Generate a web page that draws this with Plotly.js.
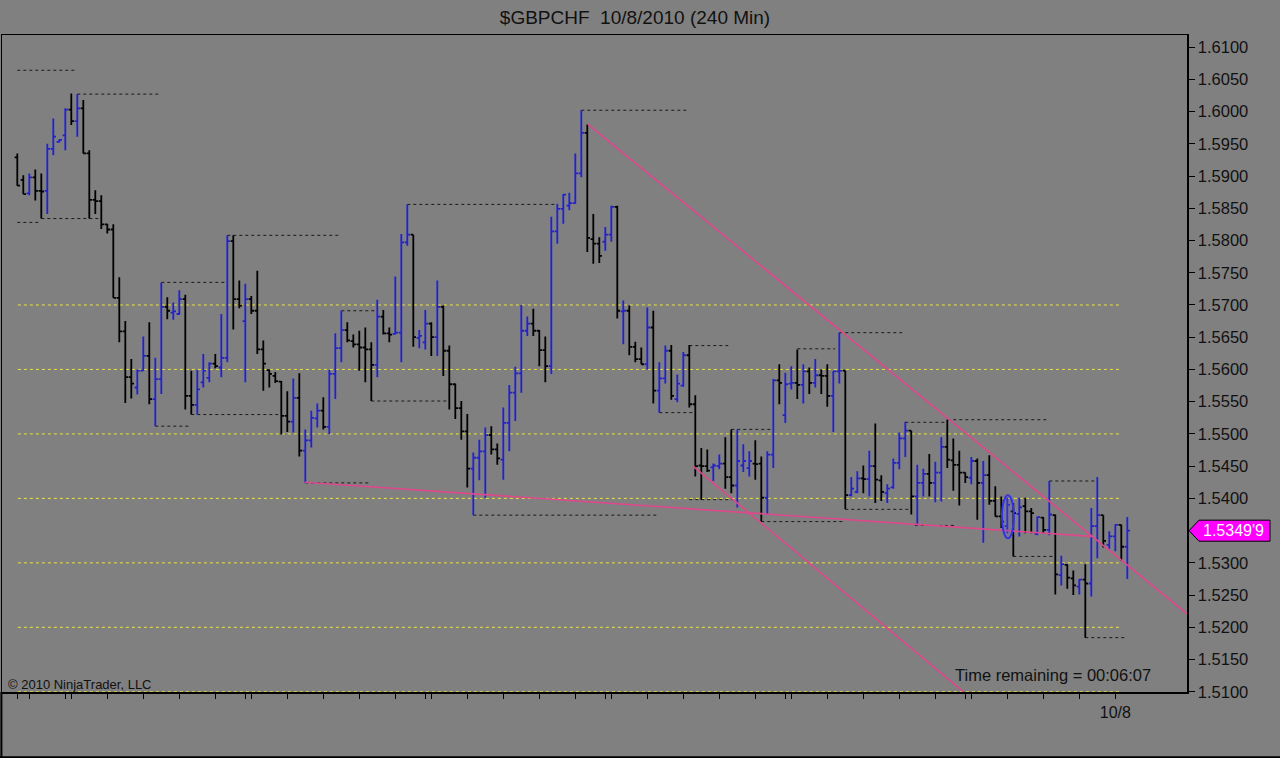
<!DOCTYPE html>
<html><head><meta charset="utf-8">
<script src="https://cdn.plot.ly/plotly-3.0.1.min.js"></script>
<style>html,body{margin:0;padding:0;background:#808080;overflow:hidden}#chart{width:1280px;height:758px}</style>
</head><body><div id="chart"></div>
<script>
// ---- data (240 min bars, GBP/CHF) ----
const opens = [
1.5929,1.5894,1.5873,1.5898,1.5877,1.5877,1.5942,1.5953,1.5963,1.6003,
1.5985,1.6005,1.5935,1.5863,1.5861,1.5825,1.5817,1.5711,1.5659,1.5588,
1.5572,1.5598,1.5621,1.5554,1.5585,1.5697,1.5688,1.5686,1.5709,1.5559,
1.5545,1.5580,1.5587,1.5609,1.5603,1.5618,1.5799,1.5709,1.5675,1.5709,
1.5691,1.5631,1.5599,1.5590,1.5581,1.5528,1.5519,1.5556,1.5474,1.5490,
1.5524,1.5536,1.5511,1.5593,1.5633,1.5661,1.5644,1.5639,1.5634,1.5631,
1.5607,1.5682,1.5656,1.5655,1.5657,1.5797,1.5809,1.5649,1.5642,1.5671,
1.5650,1.5697,1.5629,1.5577,1.5540,1.5504,1.5446,1.5463,1.5473,1.5498,
1.5476,1.5460,1.5517,1.5564,1.5594,1.5660,1.5671,1.5660,1.5630,1.5605,
1.5814,1.5849,1.5854,1.5858,1.5904,1.5967,1.5802,1.5795,1.5798,1.5809,
1.5852,1.5690,1.5691,1.5635,1.5616,1.5608,1.5665,1.5567,1.5586,1.5629,
1.5554,1.5575,1.5622,1.5546,1.5451,1.5450,1.5448,1.5450,1.5454,1.5433,
1.5420,1.5451,1.5447,1.5454,1.5454,1.5401,1.5468,1.5583,1.5529,1.5578,
1.5579,1.5576,1.5597,1.5579,1.5591,1.5590,1.5559,1.5597,1.5598,1.5405,
1.5410,1.5431,1.5430,1.5450,1.5428,1.5408,1.5417,1.5455,1.5493,1.5505,
1.5403,1.5424,1.5438,1.5424,1.5440,1.5480,1.5459,1.5452,1.5440,1.5432,
1.5458,1.5424,1.5436,1.5396,1.5372,1.5357,1.5380,1.5376,1.5388,1.5380,
1.5345,1.5370,1.5351,1.5374,1.5281,1.5297,1.5276,1.5263,1.5274,1.5268,
1.5357,1.5374,1.5328,1.5341,1.5359,1.5325];
const highs = [
1.5935,1.5901,1.5904,1.5910,1.5904,1.5950,1.5989,1.5957,1.6005,1.6028,
1.6027,1.6018,1.5940,1.5878,1.5870,1.5826,1.5825,1.5743,1.5675,1.5616,
1.5600,1.5651,1.5673,1.5618,1.5735,1.5712,1.5704,1.5723,1.5716,1.5598,
1.5599,1.5624,1.5611,1.5624,1.5686,1.5808,1.5808,1.5738,1.5733,1.5714,
1.5753,1.5645,1.5600,1.5596,1.5582,1.5566,1.5586,1.5594,1.5507,1.5536,
1.5547,1.5557,1.5599,1.5656,1.5691,1.5673,1.5654,1.5660,1.5665,1.5642,
1.5708,1.5692,1.5665,1.5744,1.5810,1.5856,1.5809,1.5661,1.5692,1.5673,
1.5738,1.5699,1.5637,1.5578,1.5551,1.5531,1.5471,1.5491,1.5510,1.5512,
1.5485,1.5541,1.5576,1.5604,1.5700,1.5682,1.5694,1.5661,1.5651,1.5837,
1.5857,1.5872,1.5874,1.5935,1.6002,1.5980,1.5841,1.5805,1.5821,1.5854,
1.5854,1.5707,1.5699,1.5643,1.5634,1.5696,1.5691,1.5611,1.5637,1.5638,
1.5592,1.5627,1.5638,1.5560,1.5478,1.5476,1.5454,1.5468,1.5495,1.5507,
1.5507,1.5484,1.5473,1.5490,1.5465,1.5473,1.5585,1.5608,1.5595,1.5605,
1.5631,1.5608,1.5603,1.5616,1.5600,1.5608,1.5597,1.5657,1.5598,1.5433,
1.5442,1.5451,1.5474,1.5516,1.5436,1.5422,1.5462,1.5502,1.5519,1.5505,
1.5452,1.5446,1.5469,1.5457,1.5495,1.5522,1.5493,1.5474,1.5440,1.5464,
1.5462,1.5458,1.5467,1.5419,1.5403,1.5401,1.5393,1.5401,1.5401,1.5385,
1.5372,1.5371,1.5427,1.5375,1.5311,1.5298,1.5288,1.5275,1.5298,1.5385,
1.5433,1.5374,1.5349,1.5360,1.5359,1.5371];
const lows = [
1.5885,1.5872,1.5870,1.5862,1.5834,1.5841,1.5932,1.5952,1.5940,1.5979,
1.5961,1.5935,1.5834,1.5841,1.5818,1.5811,1.5711,1.5642,1.5548,1.5555,
1.5561,1.5598,1.5546,1.5512,1.5562,1.5678,1.5677,1.5685,1.5538,1.5530,
1.5530,1.5572,1.5580,1.5602,1.5588,1.5611,1.5662,1.5695,1.5580,1.5686,
1.5624,1.5567,1.5572,1.5579,1.5499,1.5503,1.5502,1.5465,1.5424,1.5479,
1.5510,1.5507,1.5500,1.5554,1.5611,1.5642,1.5634,1.5598,1.5580,1.5551,
1.5588,1.5654,1.5642,1.5654,1.5611,1.5792,1.5635,1.5633,1.5631,1.5621,
1.5621,1.5590,1.5538,1.5523,1.5491,1.5417,1.5374,1.5428,1.5401,1.5468,
1.5452,1.5429,1.5473,1.5520,1.5564,1.5652,1.5652,1.5605,1.5580,1.5593,
1.5795,1.5826,1.5847,1.5857,1.5898,1.5782,1.5764,1.5765,1.5784,1.5798,
1.5679,1.5639,1.5622,1.5611,1.5608,1.5600,1.5547,1.5533,1.5578,1.5553,
1.5549,1.5573,1.5541,1.5434,1.5398,1.5441,1.5427,1.5445,1.5415,1.5408,
1.5386,1.5441,1.5434,1.5429,1.5364,1.5375,1.5447,1.5546,1.5517,1.5569,
1.5554,1.5547,1.5562,1.5572,1.5562,1.5542,1.5503,1.5578,1.5383,1.5403,
1.5408,1.5408,1.5403,1.5393,1.5396,1.5393,1.5415,1.5445,1.5464,1.5375,
1.5358,1.5403,1.5403,1.5394,1.5395,1.5447,1.5412,1.5389,1.5424,1.5422,
1.5367,1.5331,1.5390,1.5372,1.5354,1.5346,1.5310,1.5341,1.5346,1.5346,
1.5343,1.5345,1.5343,1.5251,1.5265,1.5260,1.5250,1.5251,1.5184,1.5248,
1.5307,1.5324,1.5322,1.5318,1.5303,1.5275];
const closes = [
1.5885,1.5872,1.5898,1.5877,1.5876,1.5942,1.5961,1.5956,1.6003,1.5985,
1.6005,1.5935,1.5863,1.5861,1.5825,1.5817,1.5711,1.5659,1.5588,1.5578,
1.5598,1.5621,1.5554,1.5585,1.5697,1.5691,1.5690,1.5709,1.5559,1.5545,
1.5569,1.5598,1.5609,1.5605,1.5618,1.5799,1.5709,1.5699,1.5709,1.5691,
1.5631,1.5609,1.5593,1.5582,1.5528,1.5519,1.5556,1.5474,1.5490,1.5525,
1.5536,1.5511,1.5593,1.5633,1.5661,1.5645,1.5639,1.5634,1.5631,1.5607,
1.5682,1.5656,1.5654,1.5657,1.5797,1.5809,1.5650,1.5652,1.5671,1.5650,
1.5697,1.5629,1.5577,1.5540,1.5504,1.5446,1.5463,1.5473,1.5498,1.5476,
1.5462,1.5517,1.5564,1.5594,1.5660,1.5671,1.5660,1.5630,1.5605,1.5814,
1.5849,1.5871,1.5858,1.5904,1.5967,1.5804,1.5795,1.5776,1.5809,1.5852,
1.5691,1.5691,1.5635,1.5616,1.5608,1.5665,1.5567,1.5586,1.5629,1.5559,
1.5578,1.5622,1.5546,1.5450,1.5450,1.5443,1.5451,1.5454,1.5433,1.5420,
1.5458,1.5458,1.5458,1.5453,1.5401,1.5468,1.5583,1.5579,1.5577,1.5579,
1.5576,1.5597,1.5579,1.5591,1.5590,1.5559,1.5597,1.5598,1.5405,1.5415,
1.5431,1.5430,1.5450,1.5429,1.5410,1.5415,1.5455,1.5493,1.5505,1.5403,
1.5424,1.5438,1.5424,1.5440,1.5480,1.5460,1.5452,1.5440,1.5433,1.5458,
1.5424,1.5436,1.5396,1.5372,1.5364,1.5390,1.5377,1.5386,1.5380,1.5377,
1.5371,1.5351,1.5375,1.5282,1.5298,1.5277,1.5265,1.5274,1.5268,1.5357,
1.5374,1.5334,1.5341,1.5359,1.5325,1.53499];

// horizontal level lines (price)
const gridLevels = [1.51, 1.52, 1.53, 1.54, 1.55, 1.56, 1.57];
// swing high/low marker lines: [startBar, endBar, price]
const swingLevels = [
[0,10,1.6064],[10,23.6,1.6027],[0,3.5,1.5828],[4,13.8,1.5834],[24,34.6,1.5735],
[23,28.5,1.5512],[35,53.8,1.5808],[29,43.8,1.5530],[54,59.6,1.5691],[59,71.8,1.5551],
[48,58.8,1.5424],[65,89.6,1.5856],[76,106.8,1.5374],[94,111.6,1.6002],[112,118.8,1.5637],
[107,112.9,1.5533],[119,125.5,1.5507],[130,136.3,1.5632],[137,147.5,1.5657],[124,137.5,1.5364],
[138,148.8,1.5383],[112,119.3,1.5398],[148,155.1,1.5518],[155,171.8,1.5522],[149.6,156.3,1.5358],
[166,172.6,1.5310],[172,179.6,1.5427],[178,184.6,1.5184]];
// drawn trend lines: [bar0, price0, bar1, price1]
const trendLines = [
[95.1,1.5980,194.95,1.5221],
[112.6,1.5450,158.2,1.5096],
[47.9,1.5425,179.1,1.5341]];
// highlighted ellipse: [bar0, bar1, priceLow, priceHigh]
const ellipseBox = [164.1,166.1,1.5338,1.5405];
// x-axis session ticks (bar index) and labels
const dayTicks = [0,2,8,9,15,21,27,33,38,39,45,51,57,63,68,69,75,81,87,93,98,99,105,111,117,123,128,129,135,141,147,153,158,159,165,171,177,183];
const dayTickLabels = dayTicks.map(v => v === 183 ? '10/8' : '');
const priceTicks = [1.51,1.515,1.52,1.525,1.53,1.535,1.54,1.545,1.55,1.555,1.56,1.565,1.57,1.575,1.58,1.585,1.59,1.595,1.60,1.605,1.61];
const chartTitle = '$GBPCHF\u00a0\u00a010/8/2010 (240 Min)';
const timeRemaining = 'Time remaining = 00:06:07';
const copyright = '\u00a9 2010 NinjaTrader, LLC';

// ---- build ----
const barIndex = opens.map((_, i) => i);
const last = closes[closes.length - 1];
const lastStr = last.toFixed(5);
const lastLabel = lastStr.slice(0, -1) + "'" + lastStr.slice(-1);
// tick labels hidden where the last-price marker covers them
const priceTickLabels = priceTicks.map(v => Math.abs(v - last) < 0.0025 ? '' : v.toFixed(4));

const FONT = 'Liberation Sans, Arial, sans-serif';
const BLUE = '#2020d6';
const PINK = 'rgb(222,72,140)';

const trace = {
  type: 'ohlc', x: barIndex, open: opens, high: highs, low: lows, close: closes,
  increasing: {line: {color: BLUE, width: 1.8}},
  decreasing: {line: {color: '#000000', width: 1.8}},
  tickwidth: 0.45, hoverinfo: 'skip', showlegend: false
};

const shapes = [];
gridLevels.forEach(p => shapes.push({type:'line', xref:'x', yref:'y', x0:0.1, x1:184, y0:p, y1:p,
  line:{color:'rgb(232,226,70)', width:1, dash:'dot'}, layer:'below'}));
swingLevels.forEach(s => shapes.push({type:'line', xref:'x', yref:'y', x0:s[0], x1:s[1], y0:s[2], y1:s[2],
  line:{color:'rgb(25,25,25)', width:1, dash:'dot'}, layer:'below'}));
trendLines.forEach(t => shapes.push({type:'line', xref:'x', yref:'y', x0:t[0], y0:t[1], x1:t[2], y1:t[3],
  line:{color:PINK, width:1.6}}));
shapes.push({type:'circle', xref:'x', yref:'y', x0:ellipseBox[0], x1:ellipseBox[1], y0:ellipseBox[2], y1:ellipseBox[3],
  line:{color:'rgb(50,50,230)', width:2}, fillcolor:'rgba(90,90,200,0.25)'});

// last price marker
const pxToPaperX = px => (px - 2) / 1185;
const halfH = 10.5 / 6430;
const xt = pxToPaperX(1189), xs = pxToPaperX(1199), xr = pxToPaperX(1270);
shapes.push({type:'path', xref:'paper', yref:'y',
  path:`M ${xt},${last} L ${xs},${last+halfH} L ${xr},${last+halfH} L ${xr},${last-halfH} L ${xs},${last-halfH} Z`,
  fillcolor:'#ff00ff', line:{color:'#000', width:1}});
// outer frame below plot
shapes.push({type:'line', xref:'paper', yref:'paper', x0:-0.0005, x1:-0.0005, y0:0, y1:-0.101, line:{color:'#000', width:2}});
shapes.push({type:'line', xref:'paper', yref:'paper', x0:-0.002, x1:1.08, y0:-0.0995, y1:-0.0995, line:{color:'#000', width:2}});

const layout = {
  width: 1280, height: 758,
  margin: {l: 2, r: 93, t: 35, b: 66, pad: 0},
  paper_bgcolor: '#808080', plot_bgcolor: '#808080',
  showlegend: false, hovermode: false,
  font: {family: FONT, color: '#111', size: 16},
  title: {text: chartTitle, x: 635/1280, xref: 'container', xanchor: 'center',
          y: 1 - 17/758, yref: 'container', yanchor: 'middle',
          font: {family: FONT, size: 19, color: '#111'}},
  xaxis: {range: [-2.55, 194.95], showline: true, linecolor: '#000', linewidth: 1.5, mirror: true,
          ticks: 'outside', ticklen: 5, tickcolor: '#000', tickwidth: 1,
          tickmode: 'array', tickvals: dayTicks, ticktext: dayTickLabels,
          tickfont: {family: FONT, size: 16, color: '#111'},
          showgrid: false, zeroline: false, rangeslider: {visible: false}, fixedrange: true},
  yaxis: {range: [1.50997, 1.61187], side: 'right', showline: true, linecolor: '#000', linewidth: 1.5, mirror: true,
          ticks: 'outside', ticklen: 6, tickcolor: '#000', tickwidth: 1,
          tickmode: 'array', tickvals: priceTicks, ticktext: priceTickLabels,
          tickfont: {family: FONT, size: 16.5, color: '#111'},
          showgrid: false, zeroline: false, fixedrange: true},
  shapes: shapes,
  annotations: [
    {xref:'paper', yref:'y', x: pxToPaperX(1233), y: last, text: lastLabel, showarrow:false,
     xanchor:'center', yanchor:'middle', font:{family:FONT, size:16, color:'#ffffff'}},
    {xref:'paper', yref:'paper', x: pxToPaperX(1153), y: (692-675)/657, text: timeRemaining, showarrow:false,
     xanchor:'right', yanchor:'middle', font:{family:FONT, size:16.5, color:'#111'}},
    {xref:'paper', yref:'paper', x: pxToPaperX(6), y: (692-684)/657, text: copyright, showarrow:false,
     xanchor:'left', yanchor:'middle', font:{family:FONT, size:13, color:'#111'}}
  ]
};

Plotly.newPlot('chart', [trace], layout, {displayModeBar: false, staticPlot: true});
</script>
</body></html>
